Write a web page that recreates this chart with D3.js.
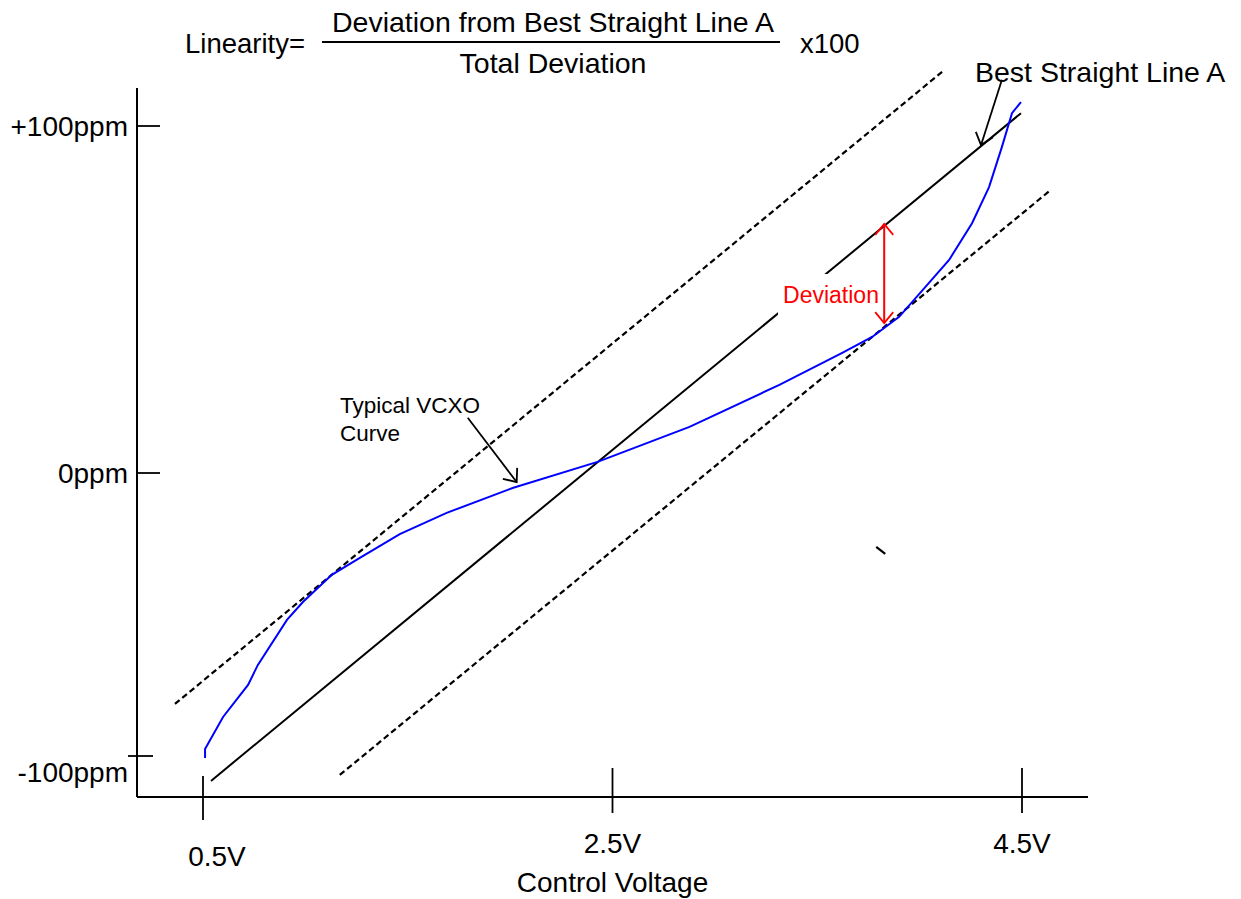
<!DOCTYPE html>
<html>
<head>
<meta charset="utf-8">
<script src="https://cdn.jsdelivr.net/npm/d3@7"></script>
<style>
  body { margin: 0; background: #fff; }
  svg { display: block; font-family: "Liberation Sans", Arial, sans-serif; }
</style>
</head>
<body>
<div id="chart"></div>
<script>
// Tick values and labels
const voltTicks = [0.5, 2.5, 4.5];
const voltLabels = ['0.5V', '2.5V', '4.5V'];
const ppmTicks = [100, 0, -100];
const ppmLabels = ['+100ppm', '0ppm', '-100ppm'];

// Typical VCXO curve (control voltage in V, pulling in ppm)
const curveVolts = [0.51, 0.51, 0.598, 0.72, 0.768, 0.91, 0.988, 1.129, 1.266, 1.461, 1.69, 2.012,
  2.427, 2.876, 3.315, 3.622, 3.768, 3.9, 4.144, 4.256, 4.339, 4.402, 4.451, 4.495];
const curvePpm = [-100.7, -97.5, -86.2, -74.9, -67.8, -51.9, -45.6, -36.0, -30.0, -21.6, -14.1, -5.3,
  3.2, 13.3, 25.4, 34.6, 39.2, 45.0, 61.4, 72.0, 82.4, 94.0, 103.7, 106.9];

// Best straight line A and the two parallel limit lines
const bestVolts = [0.539, 4.495];
const bestPpm = [-108.8, 103.7];
const upperVolts = [0.363, 4.12];
const upperPpm = [-81.6, 116.1];
const lowerVolts = [1.168, 4.641];
const lowerPpm = [-106.7, 81.6];

// Deviation marker (V, ppm top, ppm bottom)
const deviationVolt = 3.827;
const deviationPpm = [71.8, 43.2];

const W = 1241, H = 899;

const svg = d3.select('#chart')
  .append('svg')
  .attr('width', W)
  .attr('height', H);

svg.append('rect').attr('width', W).attr('height', H).attr('fill', '#fff');

// Scales (drawing is schematic, so the ppm axis is piecewise)
const x = d3.scaleLinear().domain([0.5, 4.5]).range([203, 1022]);
const y = d3.scaleLinear().domain([-100, 0, 100]).range([756, 473, 126]);

const xAxisY = 797;
const yAxisX = 137;

// Arrowhead markers
const defs = svg.append('defs');
function addMarker(id, color) {
  defs.append('marker')
    .attr('id', id)
    .attr('markerUnits', 'userSpaceOnUse')
    .attr('viewBox', '-14 -12 16 24')
    .attr('markerWidth', 16)
    .attr('markerHeight', 24)
    .attr('refX', 0)
    .attr('refY', 0)
    .attr('orient', 'auto-start-reverse')
    .append('path')
    .attr('d', 'M-11,-9L0,0L-11,9')
    .attr('fill', 'none')
    .attr('stroke', color)
    .attr('stroke-width', 1.8);
}
addMarker('arrowBlack', '#000');
addMarker('arrowRed', '#f00');

// Axes
svg.append('line')
  .attr('x1', yAxisX).attr('x2', yAxisX)
  .attr('y1', 88).attr('y2', xAxisY)
  .attr('stroke', '#000').attr('stroke-width', 2);

svg.append('line')
  .attr('x1', yAxisX).attr('x2', 1088)
  .attr('y1', xAxisY).attr('y2', xAxisY)
  .attr('stroke', '#000').attr('stroke-width', 2);

// X ticks
svg.selectAll('.xtick')
  .data(voltTicks)
  .join('line')
  .attr('class', 'xtick')
  .attr('x1', d => x(d)).attr('x2', d => x(d))
  .attr('y1', (d, i) => i === 0 ? xAxisY - 21 : xAxisY - 29)
  .attr('y2', (d, i) => i === 0 ? xAxisY + 23 : xAxisY + 16)
  .attr('stroke', '#000').attr('stroke-width', 1.8);

svg.selectAll('.xlabel')
  .data(voltTicks)
  .join('text')
  .attr('class', 'xlabel')
  .attr('x', (d, i) => i === 0 ? x(d) + 14 : x(d))
  .attr('y', (d, i) => i === 0 ? 866 : 853)
  .attr('text-anchor', 'middle')
  .attr('font-size', 28)
  .text((d, i) => voltLabels[i]);

svg.append('text')
  .attr('x', x(2.5))
  .attr('y', 892)
  .attr('text-anchor', 'middle')
  .attr('font-size', 28)
  .text('Control Voltage');

// Y ticks
svg.selectAll('.ytick')
  .data(ppmTicks)
  .join('line')
  .attr('class', 'ytick')
  .attr('x1', d => d === -100 ? yAxisX - 9 : yAxisX)
  .attr('x2', d => d === -100 ? yAxisX + 16 : yAxisX + 23)
  .attr('y1', d => y(d)).attr('y2', d => y(d))
  .attr('stroke', '#000').attr('stroke-width', 1.8);

svg.selectAll('.ylabel')
  .data(ppmTicks)
  .join('text')
  .attr('class', 'ylabel')
  .attr('x', 128)
  .attr('y', d => d === -100 ? y(d) + 26 : y(d) + 10)
  .attr('text-anchor', 'end')
  .attr('font-size', 28)
  .text((d, i) => ppmLabels[i]);

// Limit lines (dashed)
const seg = (vs, ps) => vs.map((v, i) => [x(v), y(ps[i])]);
const line = d3.line();

[[upperVolts, upperPpm], [lowerVolts, lowerPpm]].forEach(([vs, ps]) => {
  svg.append('path')
    .attr('d', line(seg(vs, ps)))
    .attr('fill', 'none')
    .attr('stroke', '#000')
    .attr('stroke-width', 2.2)
    .attr('stroke-dasharray', '6,3.5');
});

// Best straight line A
svg.append('path')
  .attr('d', line(seg(bestVolts, bestPpm)))
  .attr('fill', 'none')
  .attr('stroke', '#000')
  .attr('stroke-width', 2);

// stray dash
svg.append('path')
  .attr('d', line(seg([3.788, 3.832], [-26.1, -28.6])))
  .attr('stroke', '#000')
  .attr('stroke-width', 2.2);

// Typical VCXO curve
svg.append('path')
  .attr('d', line(seg(curveVolts, curvePpm)))
  .attr('fill', 'none')
  .attr('stroke', '#0000ff')
  .attr('stroke-width', 2);

// Deviation label with white box covering the line
svg.append('rect')
  .attr('x', 778).attr('y', 274)
  .attr('width', 103).attr('height', 42)
  .attr('fill', '#fff');

svg.append('text')
  .attr('x', 831)
  .attr('y', 303)
  .attr('text-anchor', 'middle')
  .attr('font-size', 23)
  .attr('fill', '#f00')
  .text('Deviation');

svg.append('line')
  .attr('x1', x(deviationVolt)).attr('x2', x(deviationVolt))
  .attr('y1', y(deviationPpm[0])).attr('y2', y(deviationPpm[1]))
  .attr('stroke', '#f00').attr('stroke-width', 2)
  .attr('marker-start', 'url(#arrowRed)')
  .attr('marker-end', 'url(#arrowRed)');

// Annotations
svg.append('line')
  .attr('x1', x(1.793)).attr('y1', y(15.9))
  .attr('x2', x(2.032)).attr('y2', y(-3.2))
  .attr('stroke', '#000').attr('stroke-width', 1.8)
  .attr('marker-end', 'url(#arrowBlack)');

svg.append('text')
  .attr('x', 340).attr('y', 413)
  .attr('font-size', 22.5)
  .text('Typical VCXO');
svg.append('text')
  .attr('x', 340).attr('y', 441)
  .attr('font-size', 22.5)
  .text('Curve');

svg.append('line')
  .attr('x1', x(4.402)).attr('y1', y(113.3))
  .attr('x2', x(4.3)).attr('y2', y(94.5))
  .attr('stroke', '#000').attr('stroke-width', 1.8)
  .attr('marker-end', 'url(#arrowBlack)');

svg.append('text')
  .attr('x', 975).attr('y', 82)
  .attr('font-size', 28.5)
  .text('Best Straight Line A');

// Formula
svg.append('text')
  .attr('x', 185).attr('y', 53)
  .attr('font-size', 27.5)
  .text('Linearity=');

svg.append('text')
  .attr('x', 553).attr('y', 32)
  .attr('text-anchor', 'middle')
  .attr('font-size', 28.5)
  .text('Deviation from Best Straight Line A');

svg.append('line')
  .attr('x1', 322).attr('x2', 780)
  .attr('y1', 42).attr('y2', 42)
  .attr('stroke', '#000').attr('stroke-width', 1.8);

svg.append('text')
  .attr('x', 553).attr('y', 73)
  .attr('text-anchor', 'middle')
  .attr('font-size', 28.5)
  .text('Total Deviation');

svg.append('text')
  .attr('x', 800).attr('y', 53)
  .attr('font-size', 27.5)
  .text('x100');
</script>
</body>
</html>
